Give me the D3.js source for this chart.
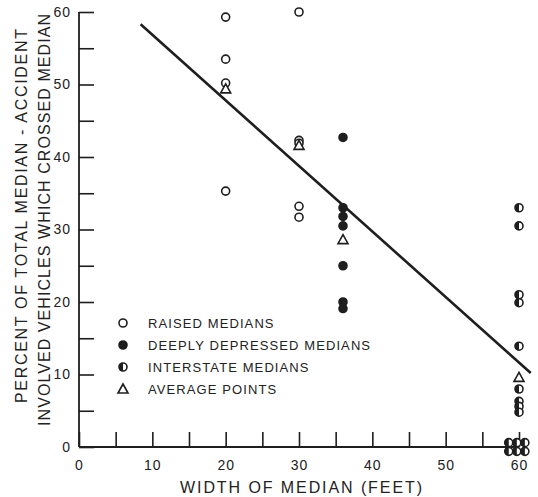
<!DOCTYPE html>
<html>
<head>
<meta charset="utf-8">
<script src="https://cdn.jsdelivr.net/npm/d3@7"></script>
<style>
  body { margin: 0; background: #fff; }
  svg text { font-family: "Liberation Sans", Arial, sans-serif; fill: #222; }
</style>
</head>
<body>
<div class="container"></div>
<script>
// data: [width of median (ft), percent crossed]
var raised = [[20, 59.3], [20, 53.5], [20, 50.2], [20, 35.3], [30, 60.0], [30, 42.3], [30, 41.9], [30, 33.2], [30, 31.7]];
var depressed = [[36, 42.7], [36, 33.0], [36, 31.8], [36, 30.5], [36, 25.0], [36, 20.0], [36, 19.1]];
var interstate = [[60, 33.0], [60, 30.5], [60, 21.0], [60, 19.9], [60, 13.9], [60, 8.0], [60, 6.3], [60, 5.6], [60, 4.8],
  [58.6, 0.6], [58.6, -0.6], [59.7, 0.6], [59.7, -0.6], [60.8, 0.6], [60.8, -0.6]];
var averages = [[20, 49.4], [30, 41.6], [36, 28.6], [60, 9.6]];
var fitX = [8.4, 61.6];
var fitY = [58.3, 10.2];
var xTicks = d3.range(0, 61, 5);
var yTicks = d3.range(0, 61, 5);
var legendLabels = ["RAISED MEDIANS", "DEEPLY DEPRESSED MEDIANS", "INTERSTATE MEDIANS", "AVERAGE POINTS"];
var legendKinds = ["raised", "depressed", "interstate", "average"];

var width = 538, height = 497;
var ink = "#1e1e1e";

var svg = d3.select(".container").append("svg")
  .attr("width", width)
  .attr("height", height);

var x = d3.scaleLinear().domain([0, 60]).range([79, 519]);
var y = d3.scaleLinear().domain([0, 60]).range([447, 12]);

// axis lines
svg.append("line").attr("x1", x(0)).attr("x2", x(60)).attr("y1", y(0)).attr("y2", y(0))
  .style("stroke", ink).style("stroke-width", 1.8);
svg.append("line").attr("x1", x(0)).attr("x2", x(0)).attr("y1", y(0)).attr("y2", y(60))
  .style("stroke", ink).style("stroke-width", 1.8);

var xAxis = svg.append("g")
  .attr("transform", "translate(0," + y(0) + ")")
  .call(d3.axisBottom(x).tickValues(xTicks).tickSize(-15).tickPadding(13)
    .tickFormat(function(d) { return d % 10 === 0 ? d : ""; }));
xAxis.select(".domain").remove();
xAxis.selectAll("line").style("stroke", ink).style("stroke-width", 1.6);
xAxis.selectAll("text").style("font-size", "14px").style("fill", "#222").style("letter-spacing", "1px");

var yAxis = svg.append("g")
  .attr("transform", "translate(" + x(0) + ",0)")
  .call(d3.axisLeft(y).tickValues(yTicks).tickSize(-15).tickPadding(8)
    .tickFormat(function(d) { return d % 10 === 0 ? d : ""; }));
yAxis.select(".domain").remove();
yAxis.selectAll("line").style("stroke", ink).style("stroke-width", 1.6);
yAxis.selectAll("text").style("font-size", "14px").style("fill", "#222").style("letter-spacing", "1px");

// titles
svg.append("text")
  .attr("x", 301).attr("y", 493)
  .attr("text-anchor", "middle")
  .attr("textLength", 242).attr("lengthAdjust", "spacing")
  .style("font-size", "16px")
  .text("WIDTH OF MEDIAN (FEET)");

svg.append("text")
  .attr("transform", "translate(27,216) rotate(-90)")
  .attr("text-anchor", "middle")
  .attr("textLength", 374).attr("lengthAdjust", "spacing")
  .style("font-size", "16px")
  .text("PERCENT OF TOTAL MEDIAN - ACCIDENT");

svg.append("text")
  .attr("transform", "translate(50,220) rotate(-90)")
  .attr("text-anchor", "middle")
  .attr("textLength", 412).attr("lengthAdjust", "spacing")
  .style("font-size", "16px")
  .text("INVOLVED VEHICLES WHICH CROSSED MEDIAN");

// regression line
svg.append("line")
  .attr("x1", x(fitX[0])).attr("y1", y(fitY[0]))
  .attr("x2", x(fitX[1])).attr("y2", y(fitY[1]))
  .style("stroke", ink).style("stroke-width", 2.6);

var r = 4;

function drawMark(g, kind) {
  if (kind === "average") {
    g.append("path")
      .attr("d", "M0,-5 L5,4 L-5,4 Z")
      .style("fill", "#fff").style("stroke", ink).style("stroke-width", 1.6);
  } else if (kind === "interstate") {
    g.append("circle").attr("r", r)
      .style("fill", "#fff").style("stroke", ink).style("stroke-width", 1.6);
    g.append("path")
      .attr("d", "M0," + (-r) + " A" + r + "," + r + " 0 0 0 0," + r + " Z")
      .style("fill", ink);
  } else {
    g.append("circle").attr("r", r)
      .style("fill", kind === "depressed" ? ink : "#fff")
      .style("stroke", ink).style("stroke-width", 1.6);
  }
}

function drawSeries(data, kind) {
  svg.append("g").selectAll("g")
    .data(data)
    .enter().append("g")
    .attr("transform", function(d) { return "translate(" + x(d[0]) + "," + y(d[1]) + ")"; })
    .each(function() { drawMark(d3.select(this), kind); });
}

drawSeries(raised, "raised");
drawSeries(depressed, "depressed");
drawSeries(interstate, "interstate");
drawSeries(averages, "average");

// legend
var legend = svg.append("g").selectAll("g")
  .data(legendLabels)
  .enter().append("g")
  .attr("transform", function(d, i) { return "translate(123," + (323 + i * 22) + ")"; });

legend.each(function(d, i) { drawMark(d3.select(this), legendKinds[i]); });

legend.append("text")
  .attr("x", 25).attr("y", 5)
  .style("font-size", "13px")
  .style("letter-spacing", "1.1px")
  .text(function(d) { return d; });
</script>
</body>
</html>
